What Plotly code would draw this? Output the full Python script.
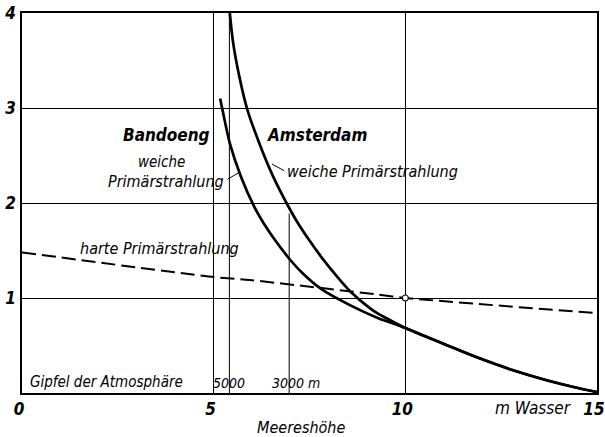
import plotly.graph_objects as go

# ---- data ----
amsterdam_x = [5.42, 5.51, 5.67, 5.88, 6.19, 6.55, 6.90, 7.18, 7.49, 7.83, 8.22, 8.57, 9.09, 9.31, 9.74]
amsterdam_y = [4.00, 3.68, 3.33, 2.98, 2.63, 2.28, 2.00, 1.80, 1.61, 1.42, 1.225, 1.066, 0.889, 0.83, 0.738]

bandoeng_x = [5.17, 5.23, 5.42, 5.71, 6.06, 6.30, 6.60, 7.00, 7.32, 7.82, 8.53, 9.31, 9.74]
bandoeng_y = [3.10, 2.98, 2.63, 2.28, 1.96, 1.79, 1.61, 1.40, 1.26, 1.09, 0.93, 0.785, 0.725]

# both curves join at x = 10 and continue as one
common_x = [10.0, 11.04, 11.9, 12.77, 13.64, 14.5, 15.0]
common_y = [0.684, 0.51, 0.37, 0.245, 0.14, 0.053, 0.01]

hard_x = [0, 5, 5.93, 9.31, 10, 15]
hard_y = [1.48, 1.22, 1.19, 1.035, 1.0, 0.84]

ref_x = [10]
ref_y = [1.0]

altitude_x = [5.41, 6.97]
altitude_top = [4.0, 1.89]
altitude_labels = ["5000", "3000 <i>m</i>"]

x_tickvals = [0, 5, 10, 15]
x_ticktext = ["0", "5", "10", "15"]
y_tickvals = [1, 2, 3, 4]
y_ticktext = ["1", "2", "3", "4"]

FONT = "DejaVu Sans Condensed, Liberation Sans Narrow, Roboto Condensed, DejaVu Sans"

fig = go.Figure()

curve = dict(color="black", width=2.7, shape="spline", smoothing=0.8)
fig.add_trace(go.Scatter(x=amsterdam_x + common_x, y=amsterdam_y + common_y, mode="lines",
                         line=curve, hoverinfo="skip"))
fig.add_trace(go.Scatter(x=bandoeng_x + common_x, y=bandoeng_y + common_y, mode="lines",
                         line=curve, hoverinfo="skip"))
fig.add_trace(go.Scatter(x=hard_x, y=hard_y, mode="lines",
                         line=dict(color="black", width=2, dash="14px,6px", shape="spline", smoothing=0.5),
                         hoverinfo="skip"))
fig.add_trace(go.Scatter(x=ref_x, y=ref_y, mode="markers",
                         marker=dict(size=6, color="white", line=dict(color="black", width=1.2)),
                         hoverinfo="skip"))

# altitude marks (vertical lines)
for xv, top in zip(altitude_x, altitude_top):
    fig.add_shape(type="line", x0=xv, x1=xv, y0=0, y1=top, xref="x", yref="y",
                  line=dict(color="black", width=1))

anns = []
def txt(x, y, s, size=15, xanchor="center", yref="y", **kw):
    anns.append(dict(x=x, y=y, xref="x", yref=yref, text=s, showarrow=False,
                     xanchor=xanchor, yanchor="middle",
                     font=dict(family=FONT, size=size, color="black", style="italic"), **kw))

txt(3.77, 2.72, "<b>Bandoeng</b>", size=17)
txt(7.69, 2.72, "<b>Amsterdam</b>", size=17)
txt(3.65, 2.43, "weiche", size=15)
txt(3.76, 2.23, "Primärstrahlung", size=16)
txt(9.15, 2.33, "weiche Primärstrahlung", size=16)
txt(3.59, 1.52, "harte Primärstrahlung", size=16)
txt(0.16, 0.12, "Gipfel der Atmosphäre", size=15, xanchor="left")
txt(altitude_x[0], 0.11, altitude_labels[0], size=14)
txt(altitude_x[1], 0.11, altitude_labels[1], size=14, xshift=7)
txt(13.34, -0.04, "m Wasser", size=17, yref="paper")
txt(7.28, -0.09, "Meereshöhe", size=16, yref="paper")

# leader lines
fig.add_shape(type="line", x0=5.36, y0=2.25, x1=5.66, y1=2.32, xref="x", yref="y",
              line=dict(color="black", width=1))
fig.add_shape(type="line", x0=6.52, y0=2.41, x1=6.84, y1=2.34, xref="x", yref="y",
              line=dict(color="black", width=1))

tickfont = dict(family=FONT, size=17, color="black", style="italic", weight="bold")
fig.update_layout(
    width=605, height=437,
    margin=dict(l=22, r=8, t=13, b=44),
    paper_bgcolor="white", plot_bgcolor="white",
    showlegend=False,
    annotations=anns,
    xaxis=dict(range=[0, 15], tickvals=x_tickvals, ticktext=x_ticktext, showgrid=True,
               gridcolor="black", gridwidth=1, zeroline=False, showline=True, mirror=True,
               linecolor="black", linewidth=1.5, ticks="", tickfont=tickfont, automargin=False,
               ticklabelstandoff=0, ticklabelshift=-3, fixedrange=True),
    yaxis=dict(range=[0, 4], tickvals=y_tickvals, ticktext=y_ticktext, showgrid=True,
               gridcolor="black", gridwidth=1, zeroline=False, showline=True, mirror=True,
               linecolor="black", linewidth=1.5, ticks="", tickfont=tickfont, automargin=False,
               ticklabelstandoff=1, fixedrange=True),
)

fig.write_html("out.html", config={"displayModeBar": False},
               post_script="document.body.style.margin='0';")
